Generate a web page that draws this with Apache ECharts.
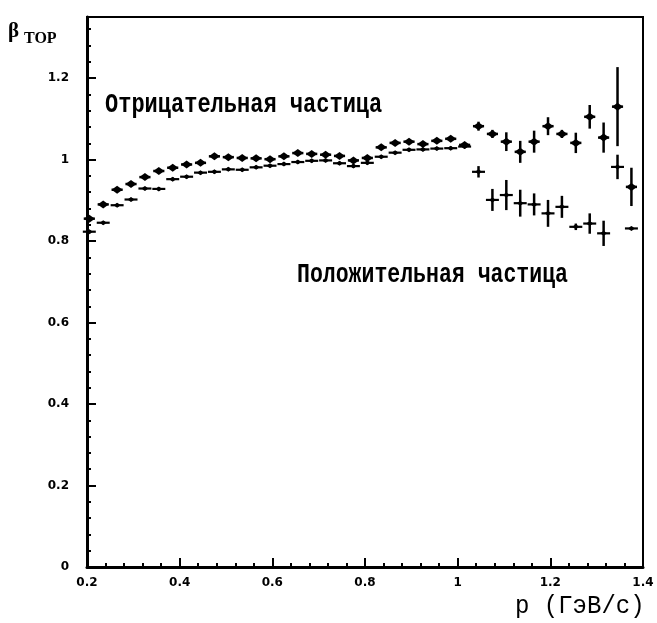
<!DOCTYPE html>
<html><head><meta charset="utf-8">
<script src="https://cdn.jsdelivr.net/npm/echarts@6.0.0/dist/echarts.min.js"></script>
<style>html,body{margin:0;padding:0;background:#fff}#c{width:657px;height:623px}</style>
</head><body><div id="c"></div><script>
// bin centres, p (GeV/c)
const pCenters = [0.205,0.235,0.265,0.295,0.325,0.355,0.385,0.415,0.445,0.475,
                  0.505,0.535,0.565,0.595,0.625,0.655,0.685,0.715,0.745,0.775,
                  0.805,0.835,0.865,0.895,0.925,0.955,0.985,1.015,1.045,1.075,
                  1.105,1.135,1.165,1.195,1.225,1.255,1.285,1.315,1.345,1.375];
// negative particle (upper)
const negBeta = [0.855,0.890,0.926,0.940,0.957,0.972,0.980,0.988,0.992,1.008,
                 1.006,1.004,1.003,1.001,1.008,1.016,1.014,1.012,1.009,0.998,
                 1.004,1.030,1.041,1.044,1.038,1.046,1.051,1.036,1.082,1.063,
                 1.044,1.019,1.044,1.082,1.063,1.041,1.105,1.054,1.130,0.933];
const negErr  = [0.004,0.004,0.004,0.004,0.004,0.004,0.004,0.004,0.004,0.004,
                 0.004,0.004,0.004,0.004,0.004,0.004,0.004,0.004,0.004,0.004,
                 0.004,0.004,0.004,0.004,0.004,0.004,0.004,0.005,0.011,0.010,
                 0.023,0.027,0.027,0.022,0.010,0.025,0.029,0.037,0.097,0.047];
// positive particle (lower)
const posBeta = [0.823,0.845,0.888,0.902,0.929,0.928,0.952,0.958,0.968,0.970,
                 0.976,0.975,0.981,0.985,0.989,0.994,0.997,0.998,0.991,0.984,
                 0.992,1.007,1.017,1.024,1.025,1.027,1.028,1.032,0.970,0.901,
                 0.913,0.893,0.890,0.868,0.884,0.835,0.843,0.819,0.982,0.831];
const posErr  = [0.004,0.004,0.004,0.004,0.004,0.004,0.004,0.004,0.004,0.004,
                 0.004,0.004,0.004,0.004,0.004,0.004,0.004,0.004,0.004,0.004,
                 0.004,0.004,0.004,0.004,0.004,0.004,0.004,0.004,0.014,0.027,
                 0.037,0.033,0.027,0.033,0.027,0.008,0.025,0.031,0.030,0.004];
const xTickLabels = ['0.2','0.4','0.6','0.8','1','1.2','1.4'];
const yTickLabels = ['0','0.2','0.4','0.6','0.8','1','1.2'];

function errRender(halfW, diaW, diaH, lw) {
  return function (params, api) {
    const x = api.value(0), y = api.value(1), e = api.value(2);
    const c = api.coord([x, y]);
    const l = api.coord([x - halfW, y]);
    const r = api.coord([x + halfW, y]);
    const t = api.coord([x, y + e]);
    const b = api.coord([x, y - e]);
    return {type: 'group', children: [
      {type: 'line', shape: {x1: l[0], y1: c[1], x2: r[0], y2: c[1]}, style: {stroke: '#000', lineWidth: lw}},
      {type: 'line', shape: {x1: c[0], y1: t[1], x2: c[0], y2: b[1]}, style: {stroke: '#000', lineWidth: 2.5}},
      {type: 'polygon', shape: {points: [[c[0]-diaW/2, c[1]], [c[0], c[1]-diaH/2], [c[0]+diaW/2, c[1]], [c[0], c[1]+diaH/2]]}, style: {fill: '#000'}}
    ]};
  };
}

const chart = echarts.init(document.getElementById('c'), null, {renderer: 'canvas'});
const monoFont = '"Liberation Mono", "DejaVu Sans Mono", monospace';
const lblFont = {color: '#000', fontFamily: '"DejaVu Sans", sans-serif', fontWeight: 'bold', fontSize: 12};
const gridPos = {left: 87, right: 14, top: 17, bottom: 56, outerBoundsMode: 'none'};
const minorAxisCommon = {
  axisLine: {show: false}, axisLabel: {show: false}, splitLine: {show: false},
  axisTick: {show: true, inside: true, length: 4, lineStyle: {color: '#000', width: 2}}
};
chart.setOption({
  animation: false,
  backgroundColor: '#fff',
  grid: [
    Object.assign({show: true, borderColor: '#000', borderWidth: 2}, gridPos),
    Object.assign({show: false}, gridPos)
  ],
  xAxis: [{
    gridIndex: 0, type: 'value', min: 0.2, max: 1.4, interval: 0.2, position: 'bottom',
    axisLine: {show: true, onZero: false, lineStyle: {color: '#000', width: 3}},
    axisTick: {show: true, inside: true, length: 9, lineStyle: {color: '#000', width: 2}},
    splitLine: {show: false},
    axisLabel: Object.assign({margin: 10, formatter: v => xTickLabels[Math.round((v - 0.2) / 0.2)] || ''}, lblFont)
  }, Object.assign({gridIndex: 1, type: 'value', min: 0.2, max: 1.4, interval: 0.04, position: 'bottom'}, minorAxisCommon)],
  yAxis: [{
    gridIndex: 0, type: 'value', min: 0, max: 1.35, interval: 0.2, position: 'left',
    axisLine: {show: true, onZero: false, lineStyle: {color: '#000', width: 3}},
    axisTick: {show: true, inside: true, length: 9, lineStyle: {color: '#000', width: 2}},
    splitLine: {show: false},
    axisLabel: Object.assign({margin: 18, formatter: v => yTickLabels[Math.round(v / 0.2)] || ''}, lblFont)
  }, Object.assign({gridIndex: 1, type: 'value', min: 0, max: 1.35, interval: 0.04, position: 'left'}, minorAxisCommon)],
  series: [
    {type: 'custom', name: 'neg', xAxisIndex: 0, yAxisIndex: 0, renderItem: errRender(0.012, 11, 8, 2.5), encode: {x: 0, y: 1},
     data: pCenters.map((p, i) => [p, negBeta[i], negErr[i]])},
    {type: 'custom', name: 'pos', xAxisIndex: 0, yAxisIndex: 0, renderItem: errRender(0.014, 7, 5, 2.2), encode: {x: 0, y: 1},
     data: pCenters.map((p, i) => [p, posBeta[i], posErr[i]])}
  ],
  graphic: [
    {type: 'text', left: 8, top: 21, style: {text: 'β', font: 'bold 21px "Liberation Serif", serif', fill: '#000'}},
    {type: 'text', left: 24, top: 31, style: {text: 'TOP', font: 'bold 16px "Liberation Serif", serif', fill: '#000'}},
    {type: 'text', x: 105, y: 105, scaleY: 1.25, style: {text: 'Отрицательная частица', font: 'bold 22px ' + monoFont, fill: '#000', verticalAlign: 'middle'}},
    {type: 'text', x: 297, y: 275, scaleY: 1.25, style: {text: 'Положительная частица', font: 'bold 21.5px ' + monoFont, fill: '#000', verticalAlign: 'middle'}},
    {type: 'text', x: 515, y: 606, scaleY: 1.05, style: {text: 'p (ГэВ/с)', font: '24px ' + monoFont, fill: '#000', verticalAlign: 'middle'}}
  ]
});
</script></body></html>
